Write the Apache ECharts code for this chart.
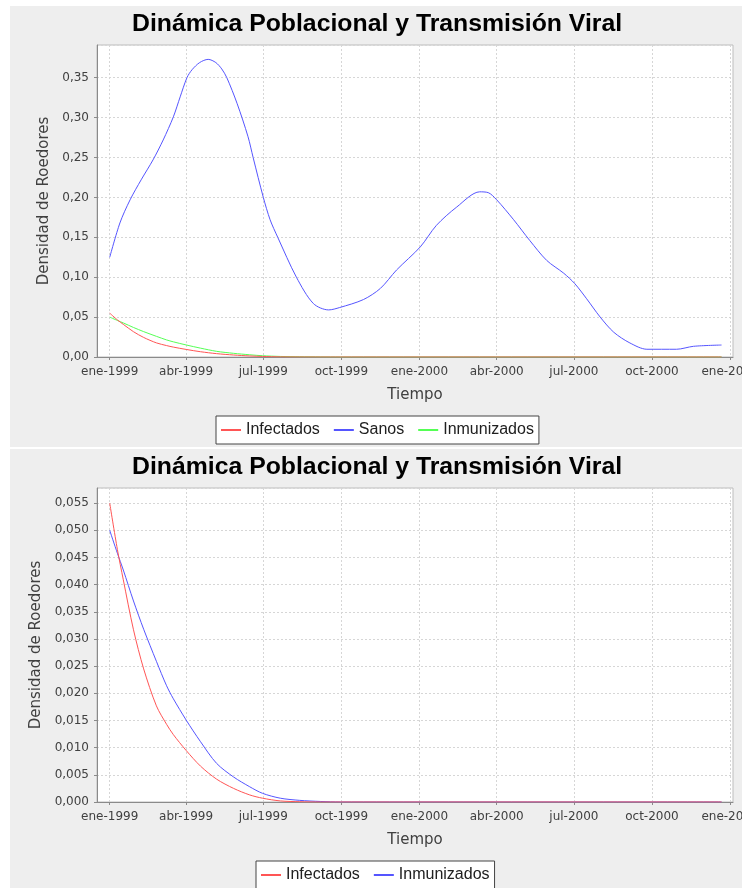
<!DOCTYPE html>
<html>
<head>
<meta charset="utf-8">
<title>Dinámica Poblacional y Transmisión Viral</title>
<script src="https://cdn.jsdelivr.net/npm/echarts@6/dist/echarts.min.js"></script>
<style>
  html, body { margin: 0; padding: 0; background: #fff; }
  #chart { width: 742px; height: 888px; }
</style>
</head>
<body>
<div id="chart"></div>
<script>
  // Sanos (solo en el grafico de arriba)
  const sanosFechas = ['1999-01-01', '1999-01-13', '1999-01-25', '1999-02-07', '1999-02-21', '1999-03-05',
    '1999-03-17', '1999-03-25', '1999-04-02', '1999-04-08', '1999-04-17', '1999-04-27', '1999-05-06',
    '1999-05-13', '1999-05-19', '1999-05-31', '1999-06-13', '1999-06-19', '1999-07-01', '1999-07-09',
    '1999-07-18', '1999-08-09', '1999-08-29', '1999-09-16', '1999-09-29', '1999-10-27', '1999-11-16',
    '1999-12-05', '2000-01-02', '2000-01-21', '2000-02-14', '2000-03-12', '2000-03-22', '2000-04-01',
    '2000-04-21', '2000-05-10', '2000-05-30', '2000-06-19', '2000-07-02', '2000-07-16', '2000-08-01',
    '2000-08-17', '2000-09-05', '2000-09-25', '2000-10-30', '2000-11-19', '2000-12-22']
  const sanosValores = [0.125, 0.168, 0.197, 0.222, 0.247, 0.272,
    0.301, 0.326, 0.350, 0.360, 0.369, 0.373, 0.369,
    0.361, 0.350, 0.318, 0.276, 0.250, 0.200, 0.172,
    0.150, 0.100, 0.067, 0.059, 0.062, 0.072, 0.086,
    0.109, 0.138, 0.165, 0.188, 0.207, 0.206, 0.197,
    0.172, 0.146, 0.121, 0.105, 0.092, 0.073, 0.050,
    0.031, 0.0176, 0.0097, 0.0097, 0.0134, 0.015]

  // Infectados e Inmunizados (los dos graficos)
  const fechas = ['1999-01-01', '1999-01-10', '1999-01-17', '1999-01-29', '1999-02-10', '1999-02-25',
    '1999-03-09', '1999-03-17', '1999-04-01', '1999-04-18', '1999-05-07', '1999-05-27', '1999-06-15',
    '1999-06-30', '1999-07-21', '1999-08-13', '1999-09-06', '1999-09-30', '2000-12-22']
  const infectados = [0.055, 0.0465, 0.0409, 0.0317, 0.0245, 0.0177,
    0.0143, 0.0124, 0.0095, 0.0066, 0.0042, 0.0025, 0.0013,
    0.0007, 0.0002, 0.00005, 0, 0, 0]
  const inmunizados = [0.050, 0.0458, 0.0427, 0.0370, 0.0318, 0.0259,
    0.0214, 0.0190, 0.0151, 0.0111, 0.0071, 0.0046, 0.0028,
    0.0016, 0.0007, 0.0003, 0.0001, 0, 0]

  // marcas del eje de tiempo
  const trimestres = ['1999-01-01', '1999-04-01', '1999-07-01', '1999-10-01', '2000-01-01',
    '2000-04-01', '2000-07-01', '2000-10-01', '2001-01-01']
  const meses = ['ene', 'feb', 'mar', 'abr', 'may', 'jun', 'jul', 'ago', 'sep', 'oct', 'nov', 'dic']

  const ROJO = '#FF5555'
  const AZUL = '#5555FF'
  const VERDE = '#55FF55'
  const GRIS_TEXTO = '#404040'

  function ts(s) {
    const p = s.split('-')
    return new Date(+p[0], +p[1] - 1, +p[2]).getTime()
  }
  function pares(xs, ys) {
    return xs.map((x, i) => [ts(x), ys[i]])
  }
  const marcas = trimestres.map(ts)

  // eje de tiempo como eje de valores (milisegundos), marcas en cada trimestre
  function ejeX(grid) {
    return {
      type: 'value',
      gridIndex: grid,
      min: ts('1998-12-17'),
      max: ts('2001-01-04') + 12 * 3600 * 1000,
      name: 'Tiempo',
      nameLocation: 'middle',
      nameGap: 31,
      nameTextStyle: {color: GRIS_TEXTO, fontFamily: 'DejaVu Sans', fontSize: 15},
      axisLine: {lineStyle: {color: '#8a8a8a'}},
      axisTick: {show: true, length: 3, customValues: marcas, lineStyle: {color: '#8a8a8a'}},
      axisLabel: {
        customValues: marcas,
        color: GRIS_TEXTO,
        fontFamily: 'DejaVu Sans',
        fontSize: 12,
        margin: 9,
        hideOverlap: false,
        formatter: val => {
          const d = new Date(val)
          return meses[d.getMonth()] + '-' + d.getFullYear()
        }
      },
      splitLine: {show: true, lineStyle: {color: '#d6d6d6', type: [2, 2]}}
    }
  }

  function ejeY(grid, max, interval, dec) {
    return {
      type: 'value',
      gridIndex: grid,
      min: 0,
      max: max,
      interval: interval,
      name: 'Densidad de Roedores',
      nameLocation: 'middle',
      nameGap: 42,
      nameTextStyle: {color: GRIS_TEXTO, fontFamily: 'DejaVu Sans', fontSize: 15},
      axisLine: {show: true, lineStyle: {color: '#8a8a8a'}},
      axisTick: {show: true, length: 3, lineStyle: {color: '#8a8a8a'}},
      axisLabel: {
        color: GRIS_TEXTO,
        fontFamily: 'DejaVu Sans',
        fontSize: 12,
        margin: 8,
        showMaxLabel: false,
        formatter: v => {
          const k = v / interval
          if (Math.abs(k - Math.round(k)) > 1e-6) return ''
          return v.toFixed(dec).replace('.', ',')
        }
      },
      splitLine: {show: true, lineStyle: {color: '#d6d6d6', type: [2, 2]}}
    }
  }

  function linea(nombre, datos, color, grid, z) {
    return {
      name: nombre,
      type: 'line',
      xAxisIndex: grid,
      yAxisIndex: grid,
      data: datos,
      showSymbol: false,
      smooth: 0.3,
      z: z,
      lineStyle: {color: color, width: 1},
      itemStyle: {color: color}
    }
  }

  const titulo = {
    fontFamily: 'Liberation Sans',
    fontWeight: 'bold',
    fontSize: 24.8,
    color: '#000'
  }
  const leyendaTexto = {color: '#202020', fontFamily: 'Liberation Sans', fontSize: 16}

  const chart = echarts.init(document.getElementById('chart'))
  chart.setOption({
    animation: false,
    backgroundColor: '#fff',
    graphic: [
      {type: 'rect', z: -10, silent: true, shape: {x: 10, y: 6, width: 740, height: 441}, style: {fill: '#EEEEEE'}},
      {type: 'rect', z: -10, silent: true, shape: {x: 10, y: 449, width: 740, height: 450}, style: {fill: '#EEEEEE'}}
    ],
    title: [
      {text: 'Dinámica Poblacional y Transmisión Viral', left: 132, top: 12, padding: 0, textStyle: titulo},
      {text: 'Dinámica Poblacional y Transmisión Viral', left: 132, top: 455, padding: 0, textStyle: titulo}
    ],
    legend: [
      {
        left: 216, top: 416, padding: [6, 5], itemGap: 14,
        icon: 'rect', itemWidth: 20, itemHeight: 2,
        backgroundColor: '#fff', borderColor: '#444', borderWidth: 1,
        textStyle: leyendaTexto,
        data: [
          {name: 'Infectados', itemStyle: {color: ROJO}},
          {name: 'Sanos', itemStyle: {color: AZUL}},
          {name: 'Inmunizados', itemStyle: {color: VERDE}}
        ]
      },
      {
        left: 256, top: 861, padding: [6, 5], itemGap: 14,
        icon: 'rect', itemWidth: 20, itemHeight: 2,
        backgroundColor: '#fff', borderColor: '#444', borderWidth: 1,
        textStyle: leyendaTexto,
        data: [
          {name: 'Infectados', itemStyle: {color: ROJO}},
          {name: 'Inmunizados', itemStyle: {color: AZUL}}
        ]
      }
    ],
    grid: [
      {left: 97, top: 45, width: 636, height: 312, outerBoundsMode: 'none', show: true, backgroundColor: '#fff', borderColor: '#bdbdbd', borderWidth: 1},
      {left: 97, top: 488, width: 636, height: 314, outerBoundsMode: 'none', show: true, backgroundColor: '#fff', borderColor: '#bdbdbd', borderWidth: 1}
    ],
    xAxis: [ejeX(0), ejeX(1)],
    yAxis: [ejeY(0, 0.391, 0.05, 2), ejeY(1, 0.0578, 0.005, 3)],
    series: [
      // JFreeChart dibuja la primera serie encima
      linea('Infectados', pares(fechas, infectados), ROJO, 0, 5),
      linea('Sanos', pares(sanosFechas, sanosValores), AZUL, 0, 4),
      linea('Inmunizados', pares(fechas, inmunizados), VERDE, 0, 3),
      linea('Infectados', pares(fechas, infectados), ROJO, 1, 5),
      linea('Inmunizados', pares(fechas, inmunizados), AZUL, 1, 4)
    ]
  })
</script>
</body>
</html>
